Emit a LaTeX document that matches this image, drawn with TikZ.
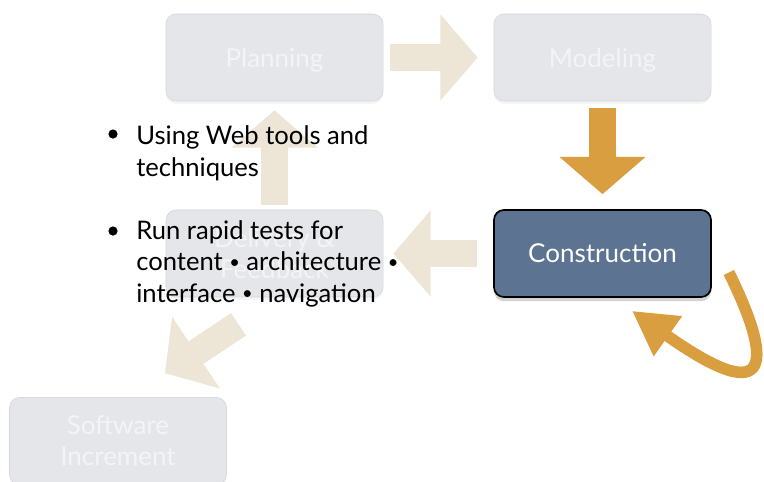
\documentclass[tikz,border=0pt]{standalone}
\usepackage{fontspec}
\setmainfont{Lato}
\usetikzlibrary{arrows.meta}
\usetikzlibrary{shadows}
\definecolor{boxgray}{RGB}{229,230,234}
\definecolor{boxedge}{RGB}{214,215,219}
\definecolor{boxtext}{RGB}{244,244,246}
\definecolor{beige}{RGB}{237,229,214}
\definecolor{gold}{RGB}{217,158,64}
\definecolor{steel}{RGB}{92,115,145}
\newcommand{\sepdot}{{\fontsize{13}{13}\selectfont\raisebox{1.6pt}{•}}}

\begin{document}
\begin{tikzpicture}[x=0.025cm, y=-0.025cm]
            \tikzstyle{phase} = [rounded corners=0.25cm, minimum width=5.425cm, minimum height=2.175cm,
                align=center, font=\fontsize{18.5}{22}\selectfont]
            \tikzstyle{faded} = [phase, draw=boxedge, fill=boxgray, text=boxtext,
                drop shadow={shadow xshift=0pt, shadow yshift=-2pt, opacity=0.08}]
            \tikzstyle{active} = [phase, draw=black, line width=1.2pt, fill=steel, text=white,
                drop shadow={shadow xshift=0pt, shadow yshift=-3pt, opacity=0.35}]
            \tikzstyle{flow} = [line width=0.675cm, -{Triangle[length=0.93cm, width=2.1cm]}]
            \tikzstyle{bullet} = [circle, fill=black, inner sep=0pt, minimum size=0.23cm]
            \tikzstyle{item} = [anchor=base west, inner sep=0pt, align=left,
                font=\fontsize{18.2}{22.3}\selectfont]
            \useasboundingbox (0, 0) rectangle (764, 481);
            % the five phases
            \node[faded, text depth=0pt] (planning) at (274.5, 57.5) {Planning};
            \node[faded, text depth=0pt] (modeling) at (602.5, 57.5) {Modeling};
            \node[faded] (delivery) at (274.5, 253.5) {Delivery \&\\Feedback};
            \node[faded] (software) at (118, 441) {Software\\Increment};
            \node[active] (construction) at (602.5, 253.5) {Construction};
            % arrows between them
            \draw[flow, beige] ([shift={(7, 0)}]planning.east) -- ([shift={(-16, 0)}]modeling.west);
            \draw[flow, gold] ([shift={(0, 7)}]modeling.south) -- ([shift={(0, -15)}]construction.north);
            \draw[flow, beige] ([shift={(-16, 0)}]construction.west) -- ([shift={(10, 0)}]delivery.east);
            \draw[flow, beige] ([shift={(0, -5)}]delivery.north) -- ([shift={(0, 9)}]planning.south);
            \draw[flow, beige] ([shift={(-36, 27)}]delivery.south) -- ([shift={(47, -24)}]software.north);
            % iteration loop
            \coordinate (loopstart) at ([shift={(17, 19)}]construction.east);
            \coordinate (looptip) at ([shift={(29.5, 13)}]construction.south);
            \draw[gold, line width=0.29cm, -{Triangle[length=1.1cm, width=1.15cm]}]
                (loopstart) .. controls (772, 360) and (775, 412) .. (looptip);
            % bullet text
            \node[bullet] (bulletone) at (113, 134) {};
            \node[item] (itemone) at (136, 176) {Using Web tools and\\techniques};
            \node[bullet] (bullettwo) at (113, 231) {};
            \node[item] (itemtwo) at (136, 302) {Run rapid tests for\\content \sepdot{} architecture \sepdot\\interface \sepdot{} navigation};
        \end{tikzpicture}
\end{document}
